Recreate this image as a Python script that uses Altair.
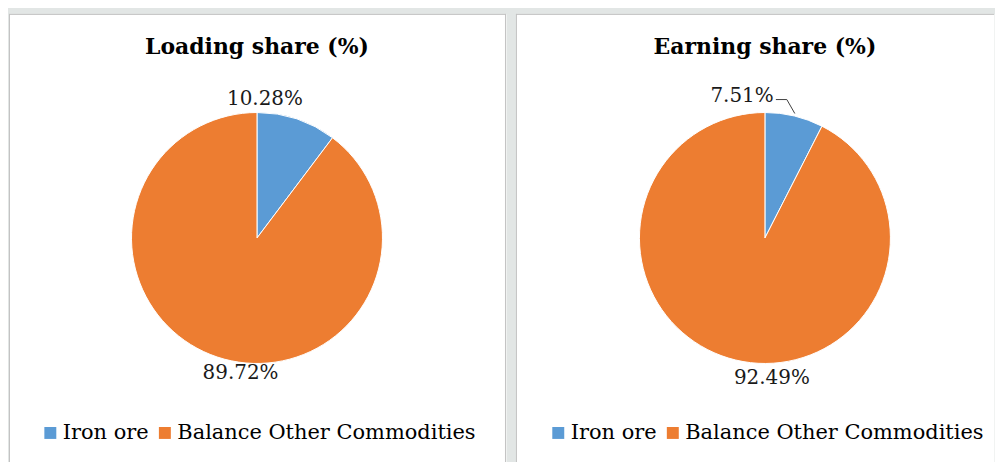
import altair as alt
import pandas as pd

# ---- data ----
categories = ["Iron ore", "Balance Other Commodities"]
loading_share = [10.28, 89.72]
earning_share = [7.51, 92.49]
panel_titles = ["Loading share (%)", "Earning share (%)"]
colors = ["#5b9bd5", "#ed7d31"]

FONT = "DejaVu Serif"
H = 450
BORDER = "#c3c3c3"


def panel(values, title, W, cx, cy, r, title_xy, label_xy, legend_x, legend_y,
          right_border=True, leader=None):
    df = pd.DataFrame({
        "category": categories,
        "share": values,
        "idx": list(range(len(categories))),
        "label": [f"{v:.2f}%" for v in values],
    })
    base = alt.Chart(df)
    one = alt.Chart(pd.DataFrame({"t": [title]}))

    layers = []
    # panel frame (top, left, optional right)
    layers.append(one.mark_rule(color=BORDER, strokeWidth=1).encode(
        x=alt.value(0), x2=alt.value(W), y=alt.value(0.5)))
    layers.append(one.mark_rule(color=BORDER, strokeWidth=1).encode(
        x=alt.value(0.5), y=alt.value(0), y2=alt.value(H)))
    if right_border:
        layers.append(one.mark_rule(color=BORDER, strokeWidth=1).encode(
            x=alt.value(W - 0.5), y=alt.value(0), y2=alt.value(H)))

    arc = base.mark_arc(radius=r, stroke="white", strokeWidth=1).encode(
        theta=alt.Theta("share:Q", stack=True),
        color=alt.Color(
            "category:N",
            scale=alt.Scale(domain=categories, range=colors),
            sort=categories,
            legend=alt.Legend(orient="none", legendX=legend_x, legendY=legend_y,
                              direction="horizontal", title=None),
        ),
        order=alt.Order("idx:Q"),
        x=alt.value(cx),
        y=alt.value(cy),
    )
    layers.append(arc)

    layers.append(one.mark_text(font=FONT, fontSize=22, fontWeight="bold",
                                color="black", align="center",
                                baseline="alphabetic").encode(
        text="t:N", x=alt.value(title_xy[0]), y=alt.value(title_xy[1])))

    for i, (lx, ly) in enumerate(label_xy):
        layers.append(base.transform_filter(alt.datum.idx == i).mark_text(
            font=FONT, fontSize=20, color="#1a1a1a", align="center",
            baseline="alphabetic").encode(
            text="label:N", x=alt.value(lx), y=alt.value(ly)))

    if leader:
        for (x1, y1, x2, y2) in leader:
            layers.append(one.mark_rule(color="#404040", strokeWidth=1).encode(
                x=alt.value(x1), y=alt.value(y1), x2=alt.value(x2), y2=alt.value(y2)))

    return alt.layer(*layers).properties(width=W, height=H)


left = panel(loading_share, panel_titles[0], 499, 249, 225, 126,
             (249, 40), [(257, 91), (232.5, 367)], 31, 410)
right = panel(earning_share, panel_titles[1], 480, 250, 225, 126,
              (250, 40), [(227, 88), (257, 372)], 32, 410,
              right_border=False,
              leader=[(261, 86, 272, 86), (272, 86, 280, 100)])

chart = alt.hconcat(left, right, spacing=8).resolve_scale(
    color="independent"
).configure(
    background="#e2e6e5",
    padding={"left": 0, "top": 4, "right": 0, "bottom": 0},
).configure_view(
    fill="white", stroke="transparent"
).configure_legend(
    symbolType="square", symbolSize=144, symbolStrokeWidth=0,
    symbolOpacity=1, labelFont=FONT, labelFontSize=21, labelColor="black",
    labelOffset=2, columnPadding=5, padding=0, labelLimit=500,
)

chart.save("out.html", embed_options={"renderer": "svg", "actions": False})
